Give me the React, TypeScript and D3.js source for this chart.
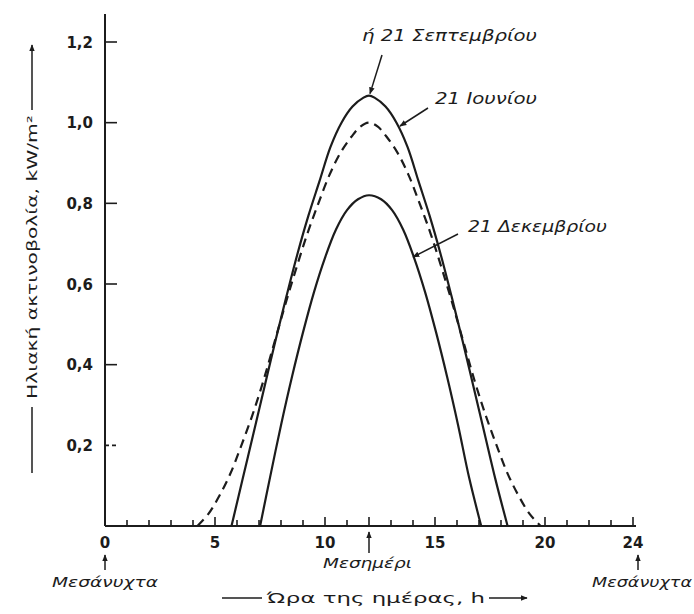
import React from "react";
import * as d3 from "d3";

// Hour of day vs solar irradiance (kW/m²)
const SEPT_H = [5.75, 6.25, 6.75, 7.25, 7.75, 8.25, 8.75, 9.25, 9.75, 10.25, 10.75, 11.25, 11.75, 12.0, 12.25, 12.75, 13.25, 13.75, 14.25, 14.75, 15.25, 15.75, 16.25, 16.75, 17.25, 17.75, 18.3];
const SEPT_V = [0, 0.115, 0.23, 0.345, 0.46, 0.57, 0.675, 0.77, 0.855, 0.94, 1.0, 1.04, 1.062, 1.067, 1.062, 1.04, 1.0, 0.94, 0.855, 0.77, 0.675, 0.57, 0.46, 0.345, 0.23, 0.115, 0];

const JUNE_H = [4.2, 4.7, 5.2, 5.7, 6.2, 6.7, 7.2, 7.7, 8.2, 8.7, 9.2, 9.7, 10.2, 10.7, 11.2, 11.6, 12.0, 12.4, 12.8, 13.3, 13.8, 14.3, 14.8, 15.3, 15.8, 16.3, 16.8, 17.3, 17.8, 18.3, 18.8, 19.3, 19.8];
const JUNE_V = [0, 0.03, 0.075, 0.13, 0.2, 0.275, 0.36, 0.455, 0.55, 0.64, 0.725, 0.8, 0.87, 0.925, 0.965, 0.99, 1.0, 0.99, 0.965, 0.925, 0.87, 0.8, 0.725, 0.64, 0.55, 0.455, 0.36, 0.275, 0.2, 0.13, 0.075, 0.03, 0];

const DEC_H = [7.05, 7.5, 8.0, 8.5, 9.0, 9.5, 10.0, 10.5, 11.0, 11.5, 12.0, 12.55, 13.05, 13.55, 14.05, 14.55, 15.05, 15.55, 16.05, 16.55, 17.1];
const DEC_V = [0, 0.12, 0.25, 0.37, 0.48, 0.58, 0.665, 0.735, 0.783, 0.81, 0.82, 0.81, 0.783, 0.735, 0.665, 0.58, 0.48, 0.37, 0.25, 0.12, 0];

const Y_TICKS = [0.2, 0.4, 0.6, 0.8, 1.0, 1.2];
const X_LABELS = [0, 5, 10, 15, 20, 24];
const X_MAJOR = [0, 5, 10, 12, 15, 20, 24];
const HOURS = d3.range(0, 25);

const LABEL_SEPT = "ή 21 Σεπτεμβρίου";
const LABEL_JUNE = "21 Ιουνίου";
const LABEL_DEC = "21 Δεκεμβρίου";
const Y_TITLE = "Ηλιακή ακτινοβολία, kW/m²";
const X_TITLE = "Ώρα της ημέρας, h";
const MIDNIGHT = "Μεσάνυχτα";
const NOON = "Μεσημέρι";

const fmt = (v: number) => v.toFixed(1).replace(".", ",");

export default function App() {
  const W = 694, H = 614;
  const x = d3.scaleLinear().domain([0, 24]).range([105, 633]);
  const y = d3.scaleLinear().domain([0, 1.2]).range([526, 42]);
  const line = d3
    .line<[number, number]>()
    .x((d) => x(d[0]))
    .y((d) => y(d[1]))
    .curve(d3.curveCatmullRom.alpha(0.5));
  const zip = (h: number[], v: number[]) => h.map((hh, i) => [hh, v[i]] as [number, number]);
  const ink = "#1c1c1c";
  const font = "'DejaVu Sans', 'Liberation Sans', sans-serif";
  const base = y(0);

  return (
    <svg width={W} height={H} style={{ position: "absolute", left: 0, top: 0, background: "#fff" }} fontFamily={font}>
      <defs>
        <marker id="ah" viewBox="0 0 10 10" refX="9" refY="5" markerWidth="7" markerHeight="8" orient="auto-start-reverse" markerUnits="userSpaceOnUse">
          <path d="M0,1 L10,5 L0,9 z" fill={ink} />
        </marker>
      </defs>

      {/* axes */}
      <line x1={x(0)} x2={x(0)} y1={14} y2={base} stroke={ink} strokeWidth={2} />
      <line x1={x(0)} x2={x(24) + 3} y1={base} y2={base} stroke={ink} strokeWidth={2} />

      {Y_TICKS.map((t) => (
        <g key={t}>
          <line x1={x(0)} x2={x(0) + 12} y1={y(t)} y2={y(t)} stroke={ink} strokeWidth={1.6} strokeDasharray={t === 0.2 ? "4 3" : undefined} />
          <text x={93} y={y(t) + 5.5} textAnchor="end" fontSize={15} fontWeight="bold" fill={ink}>{fmt(t)}</text>
        </g>
      ))}

      {HOURS.map((h) => (
        <line key={h} x1={x(h)} x2={x(h)} y1={base} y2={base - (X_MAJOR.includes(h) ? 9 : 6)} stroke={ink} strokeWidth={1.6} />
      ))}
      {X_LABELS.map((h) => (
        <text key={h} x={x(h)} y={548} textAnchor="middle" fontSize={15} fontWeight="bold" fill={ink}>{h}</text>
      ))}

      {/* curves */}
      <path d={line(zip(JUNE_H, JUNE_V)) || ""} fill="none" stroke={ink} strokeWidth={2.2} strokeDasharray="9 6" />
      <path d={line(zip(SEPT_H, SEPT_V)) || ""} fill="none" stroke={ink} strokeWidth={2.2} />
      <path d={line(zip(DEC_H, DEC_V)) || ""} fill="none" stroke={ink} strokeWidth={2.2} />

      {/* annotations */}
      <text x={362} y={41} fontSize={15} fontStyle="italic" fill={ink} textLength={175} lengthAdjust="spacingAndGlyphs">{LABEL_SEPT}</text>
      <line x1={382} y1={55} x2={x(12) + 1} y2={y(1.067) - 2} stroke={ink} strokeWidth={1.5} markerEnd="url(#ah)" />

      <text x={435} y={104} fontSize={15} fontStyle="italic" fill={ink} textLength={102} lengthAdjust="spacingAndGlyphs">{LABEL_JUNE}</text>
      <line x1={428} y1={108} x2={400} y2={126} stroke={ink} strokeWidth={1.5} markerEnd="url(#ah)" />

      <text x={468} y={232} fontSize={15} fontStyle="italic" fill={ink} textLength={139} lengthAdjust="spacingAndGlyphs">{LABEL_DEC}</text>
      <line x1={458} y1={234} x2={413} y2={257} stroke={ink} strokeWidth={1.5} markerEnd="url(#ah)" />

      {/* y title */}
      <line x1={32} x2={32} y1={473} y2={407} stroke={ink} strokeWidth={1.5} />
      <line x1={32} x2={32} y1={110} y2={45} stroke={ink} strokeWidth={1.5} markerEnd="url(#ah)" />
      <text transform={`translate(37,257) rotate(-90)`} textAnchor="middle" fontSize={14} fill={ink} textLength={284} lengthAdjust="spacingAndGlyphs">{Y_TITLE}</text>

      {/* x annotations */}
      <line x1={x(12)} x2={x(12)} y1={553} y2={532} stroke={ink} strokeWidth={1.5} markerEnd="url(#ah)" />
      <text x={323} y={568} fontSize={14} fontStyle="italic" fill={ink} textLength={89} lengthAdjust="spacingAndGlyphs">{NOON}</text>

      <line x1={x(0)} x2={x(0)} y1={570} y2={555} stroke={ink} strokeWidth={1.5} markerEnd="url(#ah)" />
      <text x={52} y={587} fontSize={14} fontStyle="italic" fill={ink} textLength={106} lengthAdjust="spacingAndGlyphs">{MIDNIGHT}</text>
      <line x1={x(24) + 5} x2={x(24) + 5} y1={570} y2={555} stroke={ink} strokeWidth={1.5} markerEnd="url(#ah)" />
      <text x={592} y={587} fontSize={14} fontStyle="italic" fill={ink} textLength={100} lengthAdjust="spacingAndGlyphs">{MIDNIGHT}</text>

      <line x1={222} x2={262} y1={598} y2={598} stroke={ink} strokeWidth={1.5} />
      <text x={267} y={603} fontSize={14} fill={ink} textLength={218} lengthAdjust="spacingAndGlyphs">{X_TITLE}</text>
      <line x1={489} x2={527} y1={598} y2={598} stroke={ink} strokeWidth={1.5} markerEnd="url(#ah)" />
    </svg>
  );
}
